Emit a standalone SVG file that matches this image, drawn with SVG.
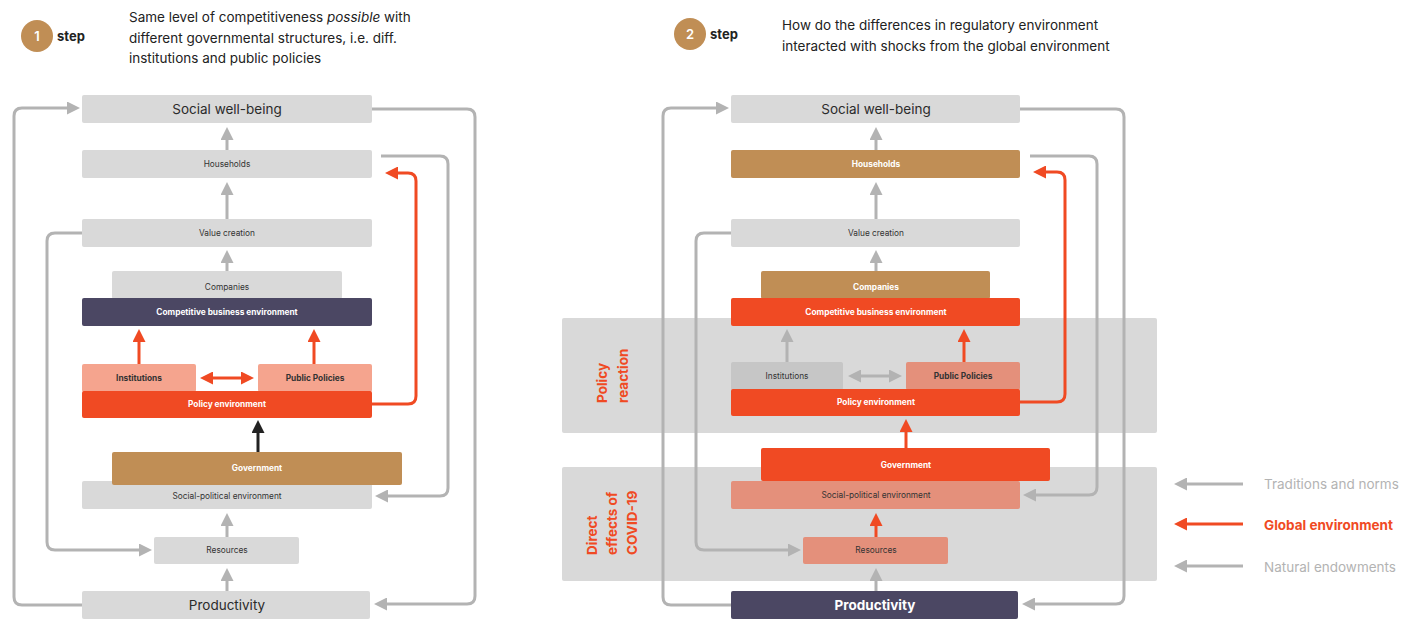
<svg xmlns="http://www.w3.org/2000/svg" width="1401" height="619" viewBox="0 0 1401 619">
  <style>
    text { font-family: Inter, "Liberation Sans", sans-serif; }
    .lbl { font-size: 8.3px; text-anchor: middle; dominant-baseline: central; fill: #333; }
    .lblw { font-size: 8.3px; font-weight: 700; text-anchor: middle; dominant-baseline: central; fill: #fff; }
    .lbld { font-size: 8.3px; font-weight: 700; text-anchor: middle; dominant-baseline: central; fill: #333; }
    .big { font-size: 13.5px; text-anchor: middle; dominant-baseline: central; fill: #2b2b2b; }
    .bigw { font-size: 13.5px; font-weight: 700; text-anchor: middle; dominant-baseline: central; fill: #fff; }
    .head { font-size: 13.5px; fill: #222; }
    .step { font-size: 13px; font-weight: 700; fill: #222; }
    .num { font-size: 13px; font-weight: 600; fill: #fff; text-anchor: middle; dominant-baseline: central; }
    .band-t { font-size: 13.5px; font-weight: 700; fill: #f04a23; }
    .gray { fill: #d9d9d9; }
    .gray2 { fill: #c6c6c6; }
    .dark { fill: #4b4763; }
    .brown { fill: #c08e55; }
    .red { fill: #f04a23; }
    .salmon { fill: #f5a48e; }
    .salmon2 { fill: #e4907b; }
    .band { fill: #d9d9d9; }
    .cg { fill: none; stroke: #b3b3b3; stroke-width: 3; }
    .cr { fill: none; stroke: #f04a23; stroke-width: 3; }
    .ck { fill: none; stroke: #222; stroke-width: 3; }
    .lg { font-size: 13.5px; fill: #b3b3b3; }
    .lr { font-size: 13.5px; font-weight: 700; fill: #f04a23; }
  </style>
  <defs>
    <marker id="ag" markerUnits="userSpaceOnUse" markerWidth="13" markerHeight="13" viewBox="0 0 13 13" refX="1" refY="6.5" orient="auto-start-reverse">
      <path d="M0,0 L13,6.5 L0,13 z" fill="#b3b3b3"/>
    </marker>
    <marker id="ar" markerUnits="userSpaceOnUse" markerWidth="13" markerHeight="13" viewBox="0 0 13 13" refX="1" refY="6.5" orient="auto-start-reverse">
      <path d="M0,0 L13,6.5 L0,13 z" fill="#f04a23"/>
    </marker>
    <marker id="ak" markerUnits="userSpaceOnUse" markerWidth="13" markerHeight="13" viewBox="0 0 13 13" refX="1" refY="6.5" orient="auto">
      <path d="M0,0 L13,6.5 L0,13 z" fill="#222"/>
    </marker>
  </defs>

  <!-- headers -->
  <g id="header-1">
    <circle cx="37" cy="36" r="16" class="brown"/>
    <text x="37" y="36" class="num">1</text>
    <text x="57" y="41" class="step">step</text>
    <text x="129" y="22" class="head">Same level of competitiveness <tspan font-style="italic">possible</tspan> with</text>
    <text x="129" y="43" class="head">different governmental structures, i.e. diff.</text>
    <text x="129" y="63" class="head">institutions and public policies</text>
  </g>
  <g id="header-2">
    <circle cx="690" cy="34" r="16" class="brown"/>
    <text x="690" y="34" class="num">2</text>
    <text x="710" y="39" class="step">step</text>
    <text x="782" y="30" class="head">How do the differences in regulatory environment</text>
    <text x="782" y="51" class="head">interacted with shocks from the global environment</text>
  </g>

  <!-- shaded bands (step 2) -->
  <g id="band-policy-reaction">
    <rect x="562" y="318" width="595" height="115" rx="2" class="band"/>
    <text transform="translate(607,403) rotate(-90)" class="band-t">Policy</text>
    <text transform="translate(628,403) rotate(-90)" class="band-t">reaction</text>
  </g>
  <g id="band-direct-effects">
    <rect x="562" y="467" width="595" height="114" rx="2" class="band"/>
    <text transform="translate(597,555) rotate(-90)" class="band-t">Direct</text>
    <text transform="translate(617,555) rotate(-90)" class="band-t">effects of</text>
    <text transform="translate(637,555) rotate(-90)" class="band-t">COVID-19</text>
  </g>

  <!-- connectors -->
  <g id="connectors">
    <!-- step 1 -->
    <path class="cg" d="M82,605 H22 Q14,605 14,597 V116 Q14,108 22,108 H68" marker-end="url(#ag)"/>
    <path class="cg" d="M372,109 H467 Q475,109 475,117 V596 Q475,604 467,604 H386" marker-end="url(#ag)"/>
    <path class="cg" d="M381,156 H440 Q448,156 448,164 V488 Q448,496 440,496 H387" marker-end="url(#ag)"/>
    <path class="cg" d="M82,233 H55 Q47,233 47,241 V542 Q47,550 55,550 H140" marker-end="url(#ag)"/>
    <path class="cr" d="M372,404 H408 Q416,404 416,396 V181 Q416,173 408,173 H397" marker-end="url(#ar)"/>
    <path class="cg" d="M227,150 V139" marker-end="url(#ag)"/>
    <path class="cg" d="M227,219 V194" marker-end="url(#ag)"/>
    <path class="cg" d="M227,271 V262" marker-end="url(#ag)"/>
    <path class="cg" d="M227,537 V525" marker-end="url(#ag)"/>
    <path class="cg" d="M227,591 V580" marker-end="url(#ag)"/>
    <path class="cr" d="M139,364 V341" marker-end="url(#ar)"/>
    <path class="cr" d="M314,364 V341" marker-end="url(#ar)"/>
    <path class="cr" d="M212,378 H242" marker-start="url(#ar)" marker-end="url(#ar)"/>
    <path class="ck" d="M258,452 V432" marker-end="url(#ak)"/>

    <!-- step 2 -->
    <path class="cg" d="M731,605 H671 Q663,605 663,597 V116 Q663,108 671,108 H717" marker-end="url(#ag)"/>
    <path class="cg" d="M1020,109 H1116 Q1124,109 1124,117 V596 Q1124,604 1116,604 H1034" marker-end="url(#ag)"/>
    <path class="cg" d="M1030,156 H1089 Q1097,156 1097,164 V487 Q1097,495 1089,495 H1035" marker-end="url(#ag)"/>
    <path class="cg" d="M731,233 H704 Q696,233 696,241 V542 Q696,550 704,550 H789" marker-end="url(#ag)"/>
    <path class="cr" d="M1020,402 H1057 Q1065,402 1065,394 V180 Q1065,172 1057,172 H1045" marker-end="url(#ar)"/>
    <path class="cg" d="M876,150 V139" marker-end="url(#ag)"/>
    <path class="cg" d="M876,219 V194" marker-end="url(#ag)"/>
    <path class="cg" d="M876,271 V262" marker-end="url(#ag)"/>
    <path class="cg" d="M787,362 V341" marker-end="url(#ag)"/>
    <path class="cr" d="M964,362 V341" marker-end="url(#ar)"/>
    <path class="cg" d="M860,376 H890" marker-start="url(#ag)" marker-end="url(#ag)"/>
    <path class="cr" d="M906,448 V431" marker-end="url(#ar)"/>
    <path class="cr" d="M876,537 V525" marker-end="url(#ar)"/>
    <path class="cg" d="M876,591 V580" marker-end="url(#ag)"/>

    <!-- legend arrows -->
    <path class="cg" d="M1243,484 H1186" marker-end="url(#ag)"/>
    <path class="cr" d="M1243,524 H1186" marker-end="url(#ar)"/>
    <path class="cg" d="M1243,566 H1186" marker-end="url(#ag)"/>
  </g>

  <!-- step 1 nodes -->
  <g id="s1-social-well-being"><rect x="82" y="95" width="290" height="28" rx="2" class="gray"/><text x="227" y="109" class="big">Social well-being</text></g>
  <g id="s1-households"><rect x="82" y="150" width="290" height="28" rx="2" class="gray"/><text x="227" y="164" class="lbl">Households</text></g>
  <g id="s1-value-creation"><rect x="82" y="219" width="290" height="28" rx="2" class="gray"/><text x="227" y="233" class="lbl">Value creation</text></g>
  <g id="s1-companies"><rect x="112" y="271" width="230" height="28" rx="2" class="gray"/><text x="227" y="287" class="lbl">Companies</text></g>
  <g id="s1-competitive"><rect x="82" y="298" width="290" height="28" rx="2" class="dark"/><text x="227" y="312" class="lblw">Competitive business environment</text></g>
  <g id="s1-institutions"><rect x="82" y="364" width="114" height="28" rx="2" class="salmon"/><text x="139" y="378" class="lbld">Institutions</text></g>
  <g id="s1-public-policies"><rect x="258" y="364" width="114" height="28" rx="2" class="salmon"/><text x="315" y="378" class="lbld">Public Policies</text></g>
  <g id="s1-policy-environment"><rect x="82" y="391" width="290" height="27" rx="2" class="red"/><text x="227" y="404" class="lblw">Policy environment</text></g>
  <g id="s1-social-political"><rect x="82" y="481" width="290" height="28" rx="2" class="gray"/><text x="227" y="496" class="lbl">Social-political environment</text></g>
  <g id="s1-government"><rect x="112" y="452" width="290" height="33" rx="2" class="brown"/><text x="257" y="468" class="lblw">Government</text></g>
  <g id="s1-resources"><rect x="154" y="537" width="145" height="27" rx="2" class="gray"/><text x="227" y="550" class="lbl">Resources</text></g>
  <g id="s1-productivity"><rect x="82" y="591" width="288" height="28" rx="2" class="gray"/><text x="227" y="605" class="big">Productivity</text></g>

  <!-- step 2 nodes -->
  <g id="s2-social-well-being"><rect x="731" y="95" width="289" height="28" rx="2" class="gray"/><text x="876" y="109" class="big">Social well-being</text></g>
  <g id="s2-households"><rect x="731" y="150" width="289" height="28" rx="2" class="brown"/><text x="876" y="164" class="lblw">Households</text></g>
  <g id="s2-value-creation"><rect x="731" y="219" width="289" height="28" rx="2" class="gray"/><text x="876" y="233" class="lbl">Value creation</text></g>
  <g id="s2-companies"><rect x="761" y="271" width="229" height="28" rx="2" class="brown"/><text x="876" y="287" class="lblw">Companies</text></g>
  <g id="s2-competitive"><rect x="731" y="298" width="289" height="28" rx="2" class="red"/><text x="876" y="312" class="lblw">Competitive business environment</text></g>
  <g id="s2-institutions"><rect x="731" y="362" width="112" height="28" rx="2" class="gray2"/><text x="787" y="376" class="lbl">Institutions</text></g>
  <g id="s2-public-policies"><rect x="906" y="362" width="114" height="28" rx="2" class="salmon2"/><text x="963" y="376" class="lbld">Public Policies</text></g>
  <g id="s2-policy-environment"><rect x="731" y="389" width="289" height="27" rx="2" class="red"/><text x="876" y="402" class="lblw">Policy environment</text></g>
  <g id="s2-social-political"><rect x="731" y="481" width="289" height="28" rx="2" class="salmon2"/><text x="876" y="495" class="lbl">Social-political environment</text></g>
  <g id="s2-government"><rect x="761" y="448" width="289" height="33" rx="2" class="red"/><text x="906" y="465" class="lblw">Government</text></g>
  <g id="s2-resources"><rect x="803" y="537" width="145" height="27" rx="2" class="salmon2"/><text x="876" y="550" class="lbl">Resources</text></g>
  <g id="s2-productivity"><rect x="731" y="591" width="287" height="28" rx="2" class="dark"/><text x="875" y="605" class="bigw">Productivity</text></g>

  <!-- legend -->
  <g id="legend">
    <text x="1264" y="489" class="lg">Traditions and norms</text>
    <text x="1264" y="530" class="lr">Global environment</text>
    <text x="1264" y="572" class="lg">Natural endowments</text>
  </g>
</svg>
